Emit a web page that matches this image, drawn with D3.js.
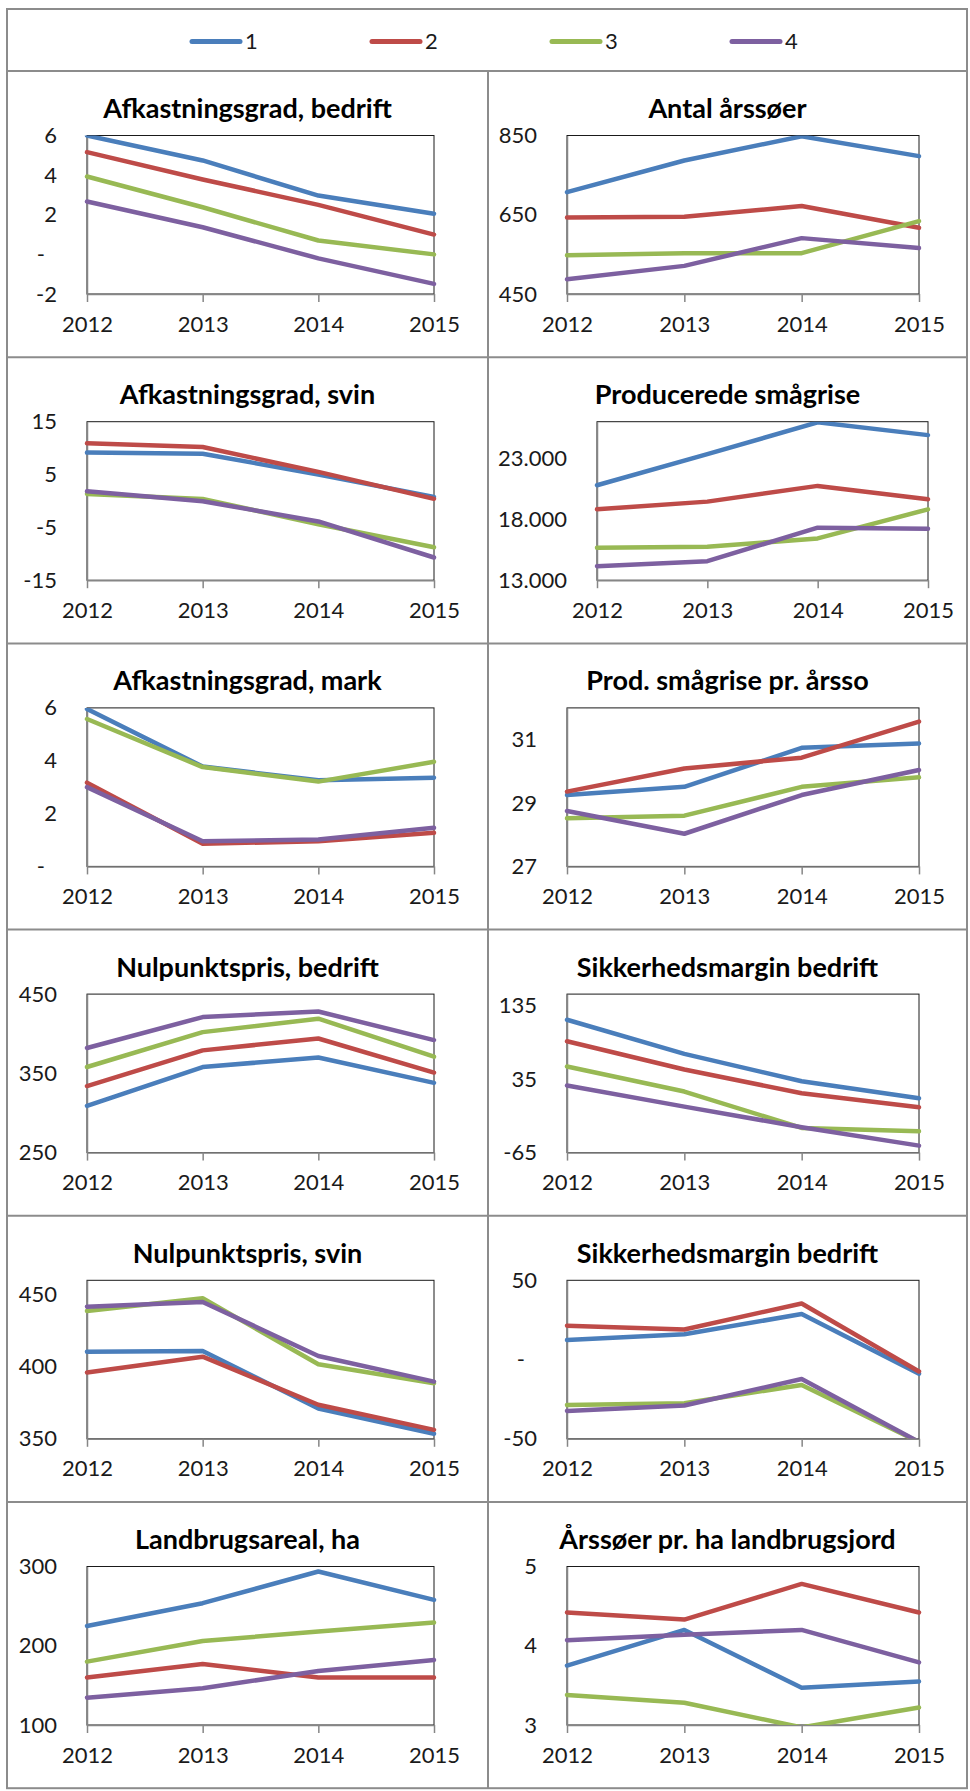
<!DOCTYPE html>
<html><head><meta charset="utf-8">
<script src="https://cdn.jsdelivr.net/npm/d3@7"></script>
<style>
body{margin:0;background:#fff;}
svg text{font-family:Lato,"Open Sans",sans-serif;fill:#1a1a1a;}
</style></head><body>
<svg id="c" width="970" height="1791"></svg>
<script>
// ---- data ----
const years = ["2012","2013","2014","2015"];
const seriesNames = ["1","2","3","4"];
const seriesColors = ["#4A7EBB","#BE4B48","#98B954","#7D60A0"];
const titles = ["Afkastningsgrad, bedrift","Antal årssøer","Afkastningsgrad, svin","Producerede smågrise",
  "Afkastningsgrad, mark","Prod. smågrise pr. årsso","Nulpunktspris, bedrift","Sikkerhedsmargin bedrift",
  "Nulpunktspris, svin","Sikkerhedsmargin bedrift","Landbrugsareal, ha","Årssøer pr. ha landbrugsjord"];

const afkBedrift   = [[6.0,4.74,2.97,2.05],[5.16,3.78,2.5,1.0],[3.93,2.38,0.7,0.0],[2.67,1.37,-0.2,-1.49]];
const antalSoer    = [[707,787,848,798],[643,645,672,617],[548,553,553,634],[487,521,591,566]];
const afkSvin      = [[9.15,8.95,5.0,0.77],[10.9,10.2,5.5,0.4],[1.33,0.38,-4.4,-8.77],[1.84,-0.06,-3.88,-10.7]];
const prodSmaa     = [[20790,23340,25950,24900],[18815,19445,20735,19637],[15660,15743,16428,18815],[14152,14563,17306,17224]];
const afkMark      = [[5.96,3.78,3.26,3.36],[3.17,0.86,0.95,1.27],[5.58,3.76,3.21,3.96],[3.0,0.95,1.02,1.46]];
const prodPrSo     = [[29.25,29.51,30.74,30.88],[29.36,30.09,30.43,31.57],[28.52,28.6,29.51,29.81],[28.75,28.03,29.25,30.04]];
const nulBedrift   = [[309,358,370,338],[334,379,394,351],[358,402,419,371],[382,421,428,392]];
const sikBedrift1  = [[116,69.5,32.3,9],[86.8,48.2,15.9,-3.2],[52.3,18.2,-31.4,-35.9],[26.4,-2.3,-30.5,-55.5]];
const nulSvin      = [[410.5,411,371,353.5],[396,407,373.6,356.2],[438.7,447.5,401.7,388.6],[441.7,445,407.5,389.7]];
const sikBedrift2  = [[12.3,16,28.7,-9],[21.3,19,35.4,-7.5],[-28.6,-27.6,-16,-52],[-32.4,-29,-12.3,-52]];
const landbrug     = [[225,253.7,293.7,257.9],[159.8,177,159.8,159.8],[180,206,217.9,229.3],[134.5,146.3,168.2,182.1]];
const soerPrHa     = [[3.75,4.2,3.47,3.55],[4.42,4.33,4.78,4.42],[3.38,3.28,2.97,3.22],[4.07,4.14,4.2,3.79]];

const panelValues = [afkBedrift,antalSoer,afkSvin,prodSmaa,afkMark,prodPrSo,nulBedrift,sikBedrift1,nulSvin,sikBedrift2,landbrug,soerPrHa];
const yDomains = [[-2,6],[450,850],[-15,15],[13000,26000],[0,6],[27,32],[250,450],[-65,151],[350,460],[-50,50],[100,300],[3,5]];
const yTicks = [[-2,0,2,4,6],[450,650,850],[-15,-5,5,15],[13000,18000,23000],[0,2,4,6],[27,29,31],[250,350,450],[-65,35,135],[350,400,450],[-50,0,50],[100,200,300],[3,4,5]];

// ---- layout ----
const frameL = 7, frameR = 967, frameT = 9, legendB = 71, rowH = 286.2;
const colX = [frameL, 488, frameR];
const defLeft = [87, 567], defRight = [434, 919];
const gridColor = "#8c8c8c";
const axisColor = "#868686";

const locale = d3.formatLocale({decimal:",", thousands:".", grouping:[3], currency:["","kr"], minus:"-"});
const fmtNum = locale.format(",.0f");
const fmt = v => v === 0 ? "-" : fmtNum(v);

const svg = d3.select("#c");
const defs = svg.append("defs");

// frame
const frameB = legendB + 6*rowH;
svg.append("rect").attr("x",frameL).attr("y",frameT).attr("width",frameR-frameL).attr("height",frameB-frameT)
  .attr("fill","none").attr("stroke",gridColor).attr("stroke-width",2);
for (let r=0;r<6;r++){
  const y = legendB + r*rowH;
  svg.append("line").attr("x1",frameL).attr("x2",frameR).attr("y1",y).attr("y2",y).attr("stroke",gridColor).attr("stroke-width",2);
}
svg.append("line").attr("x1",colX[1]).attr("x2",colX[1]).attr("y1",legendB).attr("y2",frameB).attr("stroke",gridColor).attr("stroke-width",2);

// legend
const legY = 41.5;
const leg = svg.append("g");
seriesNames.forEach((s,i)=>{
  const x0 = 190 + i*180;
  leg.append("line").attr("x1",x0+2).attr("x2",x0+50).attr("y1",legY).attr("y2",legY)
    .attr("stroke",seriesColors[i]).attr("stroke-width",5).attr("stroke-linecap","round");
  leg.append("text").attr("x",x0+55).attr("y",legY).attr("dy","0.36em").attr("font-size",22).text(s);
});

// panels
titles.forEach((title,p)=>{
  const col = p%2, row = Math.floor(p/2);
  const rowTop = legendB + row*rowH;
  const cellL = colX[col], cellR = colX[col+1];
  const g = svg.append("g");

  g.append("text").attr("x",(cellL+cellR)/2).attr("y",rowTop+47).attr("text-anchor","middle")
    .attr("font-size",27).attr("font-weight","bold").style("fill","#000").text(title);

  // measure tick label width to place plot area (like Excel)
  const probe = g.append("g");
  let maxW = 0;
  yTicks[p].forEach(t=>{
    const tt = probe.append("text").attr("font-size",22).text(fmt(t));
    maxW = Math.max(maxW, tt.node().getComputedTextLength());
  });
  probe.remove();
  const left = Math.max(defLeft[col], cellL + 10 + maxW + 30);
  const shift = left - defLeft[col];
  const right = defRight[col] + shift*0.3;
  const top = rowTop + 64.5, bottom = rowTop + 223;

  const x = d3.scalePoint().domain(years).range([left,right]);
  const y = d3.scaleLinear().domain(yDomains[p]).range([bottom,top]);

  // plot border
  g.append("rect").attr("x",left).attr("y",top).attr("width",right-left).attr("height",bottom-top)
    .attr("fill","none").attr("stroke","#1a1a1a").attr("stroke-width",1);

  const clipId = "clip"+p;
  defs.append("clipPath").attr("id",clipId).append("rect")
    .attr("x",left-3).attr("y",top).attr("width",right-left+6).attr("height",bottom-top);

  // axes
  const yAx = g.append("g").attr("transform",`translate(${left},0)`)
    .call(d3.axisLeft(y).tickValues(yTicks[p]).tickSize(0).tickPadding(30).tickFormat(fmt));
  yAx.select(".domain").attr("stroke",axisColor).attr("stroke-width",1.5);
  yAx.selectAll("text").attr("font-size",22).attr("font-family",null).attr("fill",null)
    .attr("dx",d=> d===0 ? -12 : 0);

  const xAx = g.append("g").attr("transform",`translate(0,${bottom})`)
    .call(d3.axisBottom(x).tickSizeInner(8).tickSizeOuter(0).tickPadding(14));
  xAx.select(".domain").attr("stroke",axisColor).attr("stroke-width",1.5);
  xAx.selectAll(".tick line").attr("stroke",axisColor).attr("stroke-width",1.5);
  xAx.selectAll("text").attr("font-size",22).attr("font-family",null).attr("fill",null);

  // lines
  const line = d3.line().x((d,i)=>x(years[i])).y(d=>y(d));
  const lg = g.append("g").attr("clip-path",`url(#${clipId})`);
  panelValues[p].forEach((vals,s)=>{
    lg.append("path").attr("d",line(vals)).attr("fill","none")
      .attr("stroke",seriesColors[s]).attr("stroke-width",4.5)
      .attr("stroke-linejoin","round").attr("stroke-linecap","round");
  });
});
</script>
</body></html>
